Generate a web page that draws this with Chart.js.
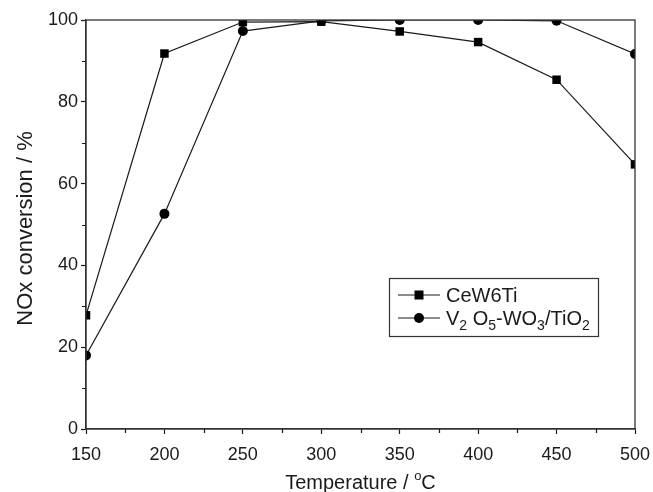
<!DOCTYPE html>
<html>
<head>
<meta charset="utf-8">
<script src="https://cdn.jsdelivr.net/npm/chart.js@4/dist/chart.umd.min.js"></script>
<style>
  html, body { margin: 0; padding: 0; background: #fff; }
  #wrap { width: 653px; height: 492px; position: relative; }
</style>
</head>
<body>
<div id="wrap"><canvas id="c" width="653" height="492"></canvas></div>
<script>
const temps = [150, 200, 250, 300, 350, 400, 450, 500]
const ceW6Ti = [27.8, 91.8, 99.5, 99.6, 97.2, 94.6, 85.4, 64.7]
const vwTi = [18.0, 52.6, 97.3, 99.8, 100, 100, 99.8, 91.7]
const xMinor = [175, 225, 275, 325, 375, 425, 475]
const yMinor = [10, 30, 50, 70, 90]

const ink = '#1a1a1a'
const font = 'Liberation Sans, Arial, sans-serif'

function pts(vals) {
  return temps.map((t, i) => ({ x: t, y: vals[i] }))
}

// frame, minor ticks, axis titles
const decor = {
  id: 'decor',
  afterDraw(chart) {
    const ctx = chart.ctx
    const a = chart.chartArea
    const xs = chart.scales.x, ys = chart.scales.y
    ctx.save()
    ctx.strokeStyle = '#333'
    ctx.lineWidth = 1.3
    ctx.strokeRect(a.left, a.top, a.right - a.left, a.bottom - a.top)
    ctx.strokeStyle = ink
    ctx.lineWidth = 1.2
    ctx.beginPath()
    xMinor.forEach(v => {
      const p = Math.round(xs.getPixelForValue(v)) + 0.5
      ctx.moveTo(p, a.bottom); ctx.lineTo(p, a.bottom + 4)
    })
    yMinor.forEach(v => {
      const p = Math.round(ys.getPixelForValue(v)) + 0.5
      ctx.moveTo(a.left, p); ctx.lineTo(a.left - 4, p)
    })
    ctx.stroke()

    ctx.fillStyle = ink
    ctx.textBaseline = 'alphabetic'
    // x title with superscript o
    const t1 = 'Temperature / ', t2 = 'C'
    ctx.font = '20px ' + font
    const w1 = ctx.measureText(t1).width
    ctx.font = '13px ' + font
    const wo = ctx.measureText('o').width
    ctx.font = '20px ' + font
    const w2 = ctx.measureText(t2).width
    let x0 = (a.left + a.right) / 2 - (w1 + wo + w2) / 2
    const yb = 489
    ctx.textAlign = 'left'
    ctx.fillText(t1, x0, yb)
    ctx.font = '13px ' + font
    ctx.fillText('o', x0 + w1, yb - 9)
    ctx.font = '20px ' + font
    ctx.fillText(t2, x0 + w1 + wo, yb)

    // y title
    ctx.font = '22px ' + font
    ctx.translate(32, (a.top + a.bottom) / 2 + 4)
    ctx.rotate(-Math.PI / 2)
    ctx.textAlign = 'center'
    ctx.fillText('NOx conversion / %', 0, 0)
    ctx.restore()
  }
}

// legend box with subscripts
const legendBox = {
  id: 'legendBox',
  afterDraw(chart) {
    const ctx = chart.ctx
    const a = chart.chartArea
    const bx = a.right - 246, by = a.top + 258, bw = 209, bh = 58
    ctx.save()
    ctx.fillStyle = '#fff'
    ctx.fillRect(bx, by, bw, bh)
    ctx.strokeStyle = '#333'
    ctx.lineWidth = 1.2
    ctx.strokeRect(bx + 0.5, by + 0.5, bw, bh)

    const rows = [
      { y: by + 17, style: 'rect', parts: [['CeW6Ti', 0]] },
      { y: by + 40, style: 'circle', parts: [['V', 0], ['2', 1], [' O', 0], ['5', 1], ['-WO', 0], ['3', 1], ['/TiO', 0], ['2', 1]] }
    ]
    rows.forEach(r => {
      ctx.strokeStyle = ink
      ctx.lineWidth = 1.2
      ctx.beginPath()
      ctx.moveTo(bx + 9, r.y); ctx.lineTo(bx + 51, r.y)
      ctx.stroke()
      ctx.fillStyle = '#000'
      if (r.style === 'rect') {
        ctx.fillRect(bx + 30 - 4.5, r.y - 4.5, 9, 9)
      } else {
        ctx.beginPath(); ctx.arc(bx + 30, r.y, 5, 0, Math.PI * 2); ctx.fill()
      }
      let x = bx + 57
      r.parts.forEach(([s, sub]) => {
        ctx.fillStyle = ink
        ctx.textAlign = 'left'
        ctx.textBaseline = 'alphabetic'
        ctx.font = (sub ? '14px ' : '20px ') + font
        ctx.fillText(s, x, r.y + (sub ? 12 : 7))
        x += ctx.measureText(s).width
      })
    })
    ctx.restore()
  }
}

new Chart(document.getElementById('c'), {
  type: 'line',
  data: {
    datasets: [
      {
        label: 'CeW6Ti',
        data: pts(ceW6Ti),
        borderColor: ink,
        borderWidth: 1.2,
        pointStyle: 'rect',
        pointRadius: 6,
        pointBackgroundColor: '#000',
        pointBorderColor: '#000',
        pointBorderWidth: 0,
        tension: 0
      },
      {
        label: 'V2O5-WO3/TiO2',
        data: pts(vwTi),
        borderColor: ink,
        borderWidth: 1.2,
        pointStyle: 'circle',
        pointRadius: 5,
        pointBackgroundColor: '#000',
        pointBorderColor: '#000',
        pointBorderWidth: 0,
        tension: 0
      }
    ]
  },
  options: {
    responsive: false,
    animation: false,
    events: [],
    layout: { padding: { top: 20, right: 18, left: 0, bottom: 0 } },
    plugins: { legend: { display: false }, tooltip: { enabled: false } },
    scales: {
      x: {
        type: 'linear',
        min: 150, max: 500,
        afterFit(s) { s.height = 63; s.paddingLeft = 0; s.paddingRight = 0 },
        ticks: { stepSize: 50, color: ink, font: { family: font, size: 18 }, padding: 10, maxRotation: 0 },
        grid: { drawOnChartArea: false, tickLength: 5, tickColor: ink, tickWidth: 1.2 },
        border: { color: '#333', width: 1.3 }
      },
      y: {
        min: 0, max: 100,
        afterFit(s) { s.width = 86; s.paddingTop = 0; s.paddingBottom = 0 },
        ticks: { stepSize: 20, color: ink, font: { family: font, size: 18 }, padding: 3 },
        grid: { drawOnChartArea: false, tickLength: 5, tickColor: ink, tickWidth: 1.2 },
        border: { color: '#333', width: 1.3 }
      }
    }
  },
  plugins: [decor, legendBox]
})
</script>
</body>
</html>
